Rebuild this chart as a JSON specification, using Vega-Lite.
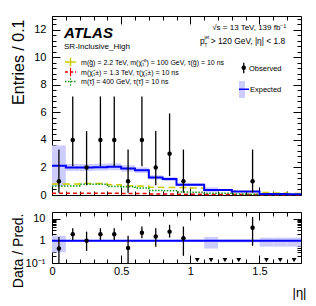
{
  "$schema": "https://vega.github.io/schema/vega-lite/v6.json",
  "padding": {"left": 9, "top": 15, "right": 5, "bottom": 5},
  "spacing": 10,
  "config": {
    "font": "Liberation Sans",
    "view": {"stroke": "#000000", "strokeWidth": 1},
    "axis": {"grid": false, "domain": false, "tickColor": "#000000", "labelColor": "#000000", "titleColor": "#000000", "labelFontSize": 11, "tickWidth": 1, "labelFont": "Liberation Sans", "titleFont": "Liberation Sans"}
  },
  "datasets": {
    "hist": [
      {"lo":0.0,"hi":0.1,"c":0.05,"obs":1,"oLo":0.17,"oHi":3.3,"exp":2.12,"eLo":0.65,"eHi":3.6,"gl":0.8,"ch":0.13,"st":0.66,"r":0.45,"rLo":0.08,"rHi":1.5,"bLo":0.3,"bHi":1.7},
      {"lo":0.1,"hi":0.2,"c":0.15,"obs":4,"oLo":2.09,"oHi":7.16,"exp":2.0,"eLo":1.75,"eHi":2.25,"gl":0.8,"ch":0.13,"st":0.66,"r":2.0,"rLo":1.1,"rHi":3.7,"bLo":0.9,"bHi":1.1},
      {"lo":0.2,"hi":0.3,"c":0.25,"obs":2,"oLo":0.71,"oHi":4.64,"exp":2.0,"eLo":1.75,"eHi":2.25,"gl":0.84,"ch":0.12,"st":0.78,"r":1.0,"rLo":0.35,"rHi":2.6,"bLo":0.9,"bHi":1.1},
      {"lo":0.3,"hi":0.4,"c":0.35,"obs":4,"oLo":2.09,"oHi":7.16,"exp":2.02,"eLo":1.77,"eHi":2.27,"gl":0.84,"ch":0.12,"st":0.78,"r":2.0,"rLo":1.1,"rHi":3.7,"bLo":0.9,"bHi":1.1},
      {"lo":0.4,"hi":0.5,"c":0.45,"obs":4,"oLo":2.09,"oHi":7.16,"exp":2.05,"eLo":1.8,"eHi":2.3,"gl":0.75,"ch":0.12,"st":0.62,"r":2.0,"rLo":1.1,"rHi":3.7,"bLo":0.9,"bHi":1.1},
      {"lo":0.5,"hi":0.6,"c":0.55,"obs":1,"oLo":0.17,"oHi":3.3,"exp":1.93,"eLo":1.7,"eHi":2.16,"gl":0.68,"ch":0.1,"st":0.6,"r":0.47,"rLo":0.09,"rHi":1.7,"bLo":0.9,"bHi":1.1},
      {"lo":0.6,"hi":0.7,"c":0.65,"obs":4,"oLo":2.09,"oHi":7.16,"exp":1.8,"eLo":1.6,"eHi":2.0,"gl":0.65,"ch":0.1,"st":0.5,"r":2.3,"rLo":1.3,"rHi":4.4,"bLo":0.9,"bHi":1.1},
      {"lo":0.7,"hi":0.8,"c":0.75,"obs":2,"oLo":0.71,"oHi":4.64,"exp":1.28,"eLo":1.12,"eHi":1.44,"gl":0.57,"ch":0.08,"st":0.32,"r":1.57,"rLo":0.54,"rHi":3.7,"bLo":0.9,"bHi":1.1},
      {"lo":0.8,"hi":0.9,"c":0.85,"obs":3,"oLo":1.37,"oHi":5.92,"exp":1.16,"eLo":1.02,"eHi":1.3,"gl":0.55,"ch":0.07,"st":0.3,"r":2.6,"rLo":1.4,"rHi":5.3,"bLo":0.9,"bHi":1.1},
      {"lo":0.9,"hi":1.0,"c":0.95,"obs":1,"oLo":0.17,"oHi":3.3,"exp":0.75,"eLo":0.65,"eHi":0.85,"gl":0.55,"ch":0.06,"st":0.22,"r":1.3,"rLo":0.21,"rHi":4.4,"bLo":0.88,"bHi":1.12},
      {"lo":1.0,"hi":1.1,"c":1.05,"obs":0,"exp":0.75,"eLo":0.65,"eHi":0.85,"gl":0.5,"ch":0.05,"st":0.2,"bLo":0.88,"bHi":1.12},
      {"lo":1.1,"hi":1.2,"c":1.15,"obs":0,"exp":0.37,"eLo":0.2,"eHi":0.55,"gl":0.38,"ch":0.04,"st":0.12,"bLo":0.45,"bHi":1.5},
      {"lo":1.2,"hi":1.3,"c":1.25,"obs":0,"exp":0.37,"eLo":0.32,"eHi":0.42,"gl":0.36,"ch":0.04,"st":0.12,"bLo":0.85,"bHi":1.15},
      {"lo":1.3,"hi":1.4,"c":1.35,"obs":0,"exp":0.25,"eLo":0.21,"eHi":0.29,"gl":0.26,"ch":0.03,"st":0.08,"bLo":0.85,"bHi":1.15},
      {"lo":1.4,"hi":1.5,"c":1.45,"obs":1,"oLo":0.17,"oHi":3.3,"exp":0.26,"eLo":0.22,"eHi":0.3,"gl":0.25,"ch":0.03,"st":0.06,"r":3.86,"rLo":0.6,"rHi":12,"bLo":0.85,"bHi":1.15},
      {"lo":1.5,"hi":1.6,"c":1.55,"obs":0,"exp":0.08,"eLo":0.045,"eHi":0.115,"gl":0.18,"ch":0.02,"st":0.04,"bLo":0.55,"bHi":1.4},
      {"lo":1.6,"hi":1.7,"c":1.65,"obs":0,"exp":0.08,"eLo":0.045,"eHi":0.115,"gl":0.14,"ch":0.02,"st":0.03,"bLo":0.55,"bHi":1.4},
      {"lo":1.7,"hi":1.8,"c":1.75,"obs":0,"exp":0.05,"eLo":0.03,"eHi":0.07,"gl":0.1,"ch":0.01,"st":0.03,"bLo":0.55,"bHi":1.4},
      {"lo":1.8,"exp":0.05,"gl":0.1,"ch":0.01,"st":0.03}
    ]
  },
  "vconcat": [
    {
      "width": 249,
      "height": 179,
      "data": {"name": "hist"},
      "resolve": {"axis": {"x": "independent", "y": "independent"}},
      "layer": [
        {
          "transform": [{"filter": "isValid(datum.hi)"}],
          "mark": {"type": "rect", "fill": "#ccccff", "strokeWidth": 0},
          "encoding": {
            "x": {"field": "lo", "type": "quantitative", "scale": {"domain": [0, 1.8], "nice": false, "zero": false},
                  "axis": {"orient": "bottom", "values": [0, 0.5, 1, 1.5], "labels": false, "tickSize": -8, "title": null}},
            "x2": {"field": "hi"},
            "y": {"field": "eLo", "type": "quantitative", "scale": {"domain": [0, 13], "nice": false},
                  "axis": {"orient": "left", "values": [0, 2, 4, 6, 8, 10, 12], "tickSize": -8, "labelPadding": 14, "labelFontSize": 11,
                           "title": "Entries / 0.1", "titleFontSize": 16, "titleFontWeight": "normal", "titleAngle": 270,
                           "titleAlign": "right", "titleBaseline": "alphabetic", "titleX": -29, "titleY": 3}},
            "y2": {"field": "eHi"}
          }
        },
        {
          "mark": {"type": "line", "interpolate": "step-after", "stroke": "#cccc00", "strokeWidth": 1.5, "strokeDash": [7, 4]},
          "encoding": {
            "x": {"field": "lo", "type": "quantitative",
                  "axis": {"orient": "bottom", "values": [0.1,0.2,0.3,0.4,0.6,0.7,0.8,0.9,1.1,1.2,1.3,1.4,1.6,1.7], "labels": false, "tickSize": -4, "title": null}},
            "y": {"field": "gl", "type": "quantitative",
                  "axis": {"orient": "left", "values": [0.4,0.8,1.2,1.6,2.4,2.8,3.2,3.6,4.4,4.8,5.2,5.6,6.4,6.8,7.2,7.6,8.4,8.8,9.2,9.6,10.4,10.8,11.2,11.6,12.4,12.8], "labels": false, "tickSize": -4, "title": null}}
          }
        },
        {
          "mark": {"type": "line", "interpolate": "step-after", "stroke": "#ee0000", "strokeWidth": 1.5, "strokeDash": [4, 3]},
          "encoding": {
            "x": {"field": "lo", "type": "quantitative",
                  "axis": {"orient": "top", "values": [0, 0.5, 1, 1.5], "labels": false, "tickSize": -8, "title": null}},
            "y": {"field": "ch", "type": "quantitative",
                  "axis": {"orient": "right", "values": [0, 2, 4, 6, 8, 10, 12], "labels": false, "tickSize": -8, "title": null}}
          }
        },
        {
          "mark": {"type": "line", "interpolate": "step-after", "stroke": "#119911", "strokeWidth": 1.5, "strokeDash": [1.5, 1.5]},
          "encoding": {
            "x": {"field": "lo", "type": "quantitative",
                  "axis": {"orient": "top", "values": [0.1,0.2,0.3,0.4,0.6,0.7,0.8,0.9,1.1,1.2,1.3,1.4,1.6,1.7], "labels": false, "tickSize": -4, "title": null}},
            "y": {"field": "st", "type": "quantitative",
                  "axis": {"orient": "right", "values": [0.4,0.8,1.2,1.6,2.4,2.8,3.2,3.6,4.4,4.8,5.2,5.6,6.4,6.8,7.2,7.6,8.4,8.8,9.2,9.6,10.4,10.8,11.2,11.6,12.4,12.8], "labels": false, "tickSize": -4, "title": null}}
          }
        },
        {
          "mark": {"type": "line", "interpolate": "step-after", "stroke": "#0000ff", "strokeWidth": 2},
          "encoding": {
            "x": {"field": "lo", "type": "quantitative", "axis": null},
            "y": {"field": "exp", "type": "quantitative", "axis": null}
          }
        },
        {
          "transform": [{"filter": "datum.obs > 0"}],
          "mark": {"type": "rule", "stroke": "#000000", "strokeWidth": 1.3},
          "encoding": {
            "x": {"field": "c", "type": "quantitative", "axis": null},
            "y": {"field": "oLo", "type": "quantitative", "axis": null},
            "y2": {"field": "oHi"}
          }
        },
        {
          "transform": [{"filter": "datum.obs > 0"}],
          "mark": {"type": "point", "filled": true, "shape": "circle", "color": "#000000", "size": 20, "opacity": 1},
          "encoding": {
            "x": {"field": "c", "type": "quantitative", "axis": null},
            "y": {"field": "obs", "type": "quantitative", "axis": null}
          }
        },
        {
          "data": {"values": [{}]},
          "mark": {"type": "text", "text": "ATLAS", "fontSize": 15, "fontWeight": "bold", "fontStyle": "italic", "align": "left", "baseline": "alphabetic", "color": "#000000"},
          "encoding": {"x": {"datum": 0.087, "axis": null}, "y": {"datum": 11.4, "axis": null}}
        },
        {
          "data": {"values": [{}]},
          "mark": {"type": "text", "text": "SR-Inclusive_High", "fontSize": 8, "align": "left", "baseline": "alphabetic", "color": "#000000"},
          "encoding": {"x": {"datum": 0.087, "axis": null}, "y": {"datum": 10.6, "axis": null}}
        },
        {
          "data": {"values": [{}]},
          "mark": {"type": "text", "text": "√s = 13 TeV,  139 fb⁻¹", "fontSize": 8, "align": "right", "baseline": "alphabetic", "color": "#000000"},
          "encoding": {"x": {"datum": 1.692, "axis": null}, "y": {"datum": 11.95, "axis": null}}
        },
        {
          "data": {"values": [{}]},
          "mark": {"type": "text", "text": "> 120 GeV, |η| < 1.8", "fontSize": 8.4, "align": "right", "baseline": "alphabetic", "color": "#000000"},
          "encoding": {"x": {"datum": 1.685, "axis": null}, "y": {"datum": 11.0, "axis": null}}
        },
        {
          "data": {"values": [{}]},
          "mark": {"type": "text", "text": "p", "fontSize": 8.4, "align": "left", "baseline": "alphabetic", "color": "#000000"},
          "encoding": {"x": {"datum": 1.07, "axis": null}, "y": {"datum": 11.0, "axis": null}}
        },
        {
          "data": {"values": [{}]},
          "mark": {"type": "text", "text": "jet", "fontSize": 4.5, "align": "left", "baseline": "alphabetic", "color": "#000000"},
          "encoding": {"x": {"datum": 1.103, "axis": null}, "y": {"datum": 11.3, "axis": null}}
        },
        {
          "data": {"values": [{}]},
          "mark": {"type": "text", "text": "T", "fontSize": 4.5, "align": "left", "baseline": "alphabetic", "color": "#000000"},
          "encoding": {"x": {"datum": 1.103, "axis": null}, "y": {"datum": 10.72, "axis": null}}
        },
        {
          "data": {"values": [{}]},
          "mark": {"type": "rule", "stroke": "#cccc00", "strokeWidth": 1.5},
          "encoding": {"x": {"datum": 0.094, "axis": null}, "x2": {"datum": 0.173}, "y": {"datum": 9.66, "axis": null}}
        },
        {
          "data": {"values": [{}]},
          "mark": {"type": "rule", "stroke": "#cccc00", "strokeWidth": 1.5},
          "encoding": {"x": {"datum": 0.134, "axis": null}, "y": {"datum": 9.35, "axis": null}, "y2": {"datum": 9.97}}
        },
        {
          "data": {"values": [{}]},
          "mark": {"type": "rule", "stroke": "#ee0000", "strokeWidth": 1.5, "strokeDash": [3, 2]},
          "encoding": {"x": {"datum": 0.094, "axis": null}, "x2": {"datum": 0.173}, "y": {"datum": 8.93, "axis": null}}
        },
        {
          "data": {"values": [{}]},
          "mark": {"type": "rule", "stroke": "#ee0000", "strokeWidth": 1.2},
          "encoding": {"x": {"datum": 0.134, "axis": null}, "y": {"datum": 8.62, "axis": null}, "y2": {"datum": 9.24}}
        },
        {
          "data": {"values": [{}]},
          "mark": {"type": "rule", "stroke": "#119911", "strokeWidth": 1.5, "strokeDash": [1.5, 1.5]},
          "encoding": {"x": {"datum": 0.094, "axis": null}, "x2": {"datum": 0.173}, "y": {"datum": 8.24, "axis": null}}
        },
        {
          "data": {"values": [{}]},
          "mark": {"type": "rule", "stroke": "#119911", "strokeWidth": 1.2, "strokeDash": [1.5, 1.5]},
          "encoding": {"x": {"datum": 0.134, "axis": null}, "y": {"datum": 7.93, "axis": null}, "y2": {"datum": 8.55}}
        },
        {
          "data": {"values": [{}]},
          "mark": {"type": "text", "text": "m(g̃) = 2.2 TeV, m(χ̃₁⁰) = 100 GeV, τ(g̃) = 10 ns", "fontSize": 7, "align": "left", "baseline": "alphabetic", "color": "#000000"},
          "encoding": {"x": {"datum": 0.21, "axis": null}, "y": {"datum": 9.45, "axis": null}}
        },
        {
          "data": {"values": [{}]},
          "mark": {"type": "text", "text": "m(χ̃₁±) = 1.3 TeV, τ(χ̃₁±) = 10 ns", "fontSize": 7, "align": "left", "baseline": "alphabetic", "color": "#000000"},
          "encoding": {"x": {"datum": 0.21, "axis": null}, "y": {"datum": 8.72, "axis": null}}
        },
        {
          "data": {"values": [{}]},
          "mark": {"type": "text", "text": "m(τ̃) =  400 GeV, τ(τ̃) = 10 ns", "fontSize": 7, "align": "left", "baseline": "alphabetic", "color": "#000000"},
          "encoding": {"x": {"datum": 0.21, "axis": null}, "y": {"datum": 8.03, "axis": null}}
        },
        {
          "data": {"values": [{}]},
          "mark": {"type": "rule", "stroke": "#000000", "strokeWidth": 1.3},
          "encoding": {"x": {"datum": 1.386, "axis": null}, "y": {"datum": 8.84, "axis": null}, "y2": {"datum": 9.61}}
        },
        {
          "data": {"values": [{}]},
          "mark": {"type": "point", "filled": true, "shape": "circle", "color": "#000000", "size": 20, "opacity": 1},
          "encoding": {"x": {"datum": 1.386, "axis": null}, "y": {"datum": 9.24, "axis": null}}
        },
        {
          "data": {"values": [{}]},
          "mark": {"type": "text", "text": "Observed", "fontSize": 7.5, "align": "left", "baseline": "alphabetic", "color": "#000000"},
          "encoding": {"x": {"datum": 1.424, "axis": null}, "y": {"datum": 9.04, "axis": null}}
        },
        {
          "data": {"values": [{}]},
          "mark": {"type": "rect", "fill": "#ccccff"},
          "encoding": {"x": {"datum": 1.352, "axis": null}, "x2": {"datum": 1.395}, "y": {"datum": 7.04, "axis": null}, "y2": {"datum": 8.28}}
        },
        {
          "data": {"values": [{}]},
          "mark": {"type": "rule", "stroke": "#0000ff", "strokeWidth": 1.5},
          "encoding": {"x": {"datum": 1.352, "axis": null}, "x2": {"datum": 1.424}, "y": {"datum": 7.68, "axis": null}}
        },
        {
          "data": {"values": [{}]},
          "mark": {"type": "text", "text": "Expected", "fontSize": 7.5, "align": "left", "baseline": "alphabetic", "color": "#000000"},
          "encoding": {"x": {"datum": 1.431, "axis": null}, "y": {"datum": 7.48, "axis": null}}
        }
      ]
    },
    {
      "width": 249,
      "height": 51,
      "data": {"name": "hist"},
      "resolve": {"axis": {"x": "independent", "y": "independent"}},
      "layer": [
        {
          "transform": [{"filter": "isValid(datum.hi)"}],
          "mark": {"type": "rect", "fill": "#ccccff", "strokeWidth": 0},
          "encoding": {
            "x": {"field": "lo", "type": "quantitative", "scale": {"domain": [0, 1.8], "nice": false, "zero": false},
                  "axis": {"orient": "bottom", "values": [0, 0.5, 1, 1.5], "format": ".1~f", "labelFlush": false, "tickSize": -8, "labelPadding": 10, "labelFontSize": 11,
                           "title": "|η|", "titleFontSize": 13, "titleFontWeight": "normal", "titleAlign": "right", "titleBaseline": "alphabetic", "titleX": 254, "titleY": 33}},
            "x2": {"field": "hi"},
            "y": {"field": "bLo", "type": "quantitative", "scale": {"type": "log", "domain": [0.1, 20], "nice": false},
                  "axis": {"orient": "left", "values": [0.1, 1, 10], "tickSize": -8, "labelPadding": 15, "labelFontSize": 11,
                           "labelExpr": "datum.value < 0.5 ? '10⁻¹' : (datum.value < 5 ? '1' : '10')",
                           "title": "Data / Pred.", "titleFontSize": 14, "titleFontWeight": "normal", "titleAngle": 270,
                           "titleAlign": "right", "titleBaseline": "alphabetic", "titleX": -30, "titleY": 1}},
            "y2": {"field": "bHi"}
          }
        },
        {
          "data": {"values": [{}]},
          "mark": {"type": "rule", "stroke": "#0000ff", "strokeWidth": 2},
          "encoding": {"y": {"datum": 1, "axis": null}}
        },
        {
          "transform": [{"filter": "isValid(datum.r)"}],
          "mark": {"type": "rule", "stroke": "#000000", "strokeWidth": 1.3, "clip": true},
          "encoding": {
            "x": {"field": "c", "type": "quantitative",
                  "axis": {"orient": "bottom", "values": [0.1,0.2,0.3,0.4,0.6,0.7,0.8,0.9,1.1,1.2,1.3,1.4,1.6,1.7], "labels": false, "tickSize": -4, "title": null}},
            "y": {"field": "rLo", "type": "quantitative",
                  "axis": {"orient": "left", "values": [0.2,0.3,0.4,0.5,0.6,0.7,0.8,0.9,2,3,4,5,6,7,8,9], "labels": false, "tickSize": -4, "title": null}},
            "y2": {"field": "rHi"}
          }
        },
        {
          "transform": [{"filter": "isValid(datum.r)"}],
          "mark": {"type": "point", "filled": true, "shape": "circle", "color": "#000000", "size": 20, "opacity": 1},
          "encoding": {
            "x": {"field": "c", "type": "quantitative",
                  "axis": {"orient": "top", "values": [0, 0.5, 1, 1.5], "labels": false, "tickSize": -8, "title": null}},
            "y": {"field": "r", "type": "quantitative",
                  "axis": {"orient": "right", "values": [0.1, 1, 10], "labels": false, "tickSize": -8, "title": null}}
          }
        },
        {
          "transform": [{"filter": "datum.obs == 0"}],
          "mark": {"type": "point", "filled": true, "shape": "triangle-down", "color": "#000000", "size": 22, "opacity": 1},
          "encoding": {
            "x": {"field": "c", "type": "quantitative",
                  "axis": {"orient": "top", "values": [0.1,0.2,0.3,0.4,0.6,0.7,0.8,0.9,1.1,1.2,1.3,1.4,1.6,1.7], "labels": false, "tickSize": -4, "title": null}},
            "y": {"datum": 0.135,
                  "axis": {"orient": "right", "values": [0.2,0.3,0.4,0.5,0.6,0.7,0.8,0.9,2,3,4,5,6,7,8,9], "labels": false, "tickSize": -4, "title": null}}
          }
        }
      ]
    }
  ]
}
